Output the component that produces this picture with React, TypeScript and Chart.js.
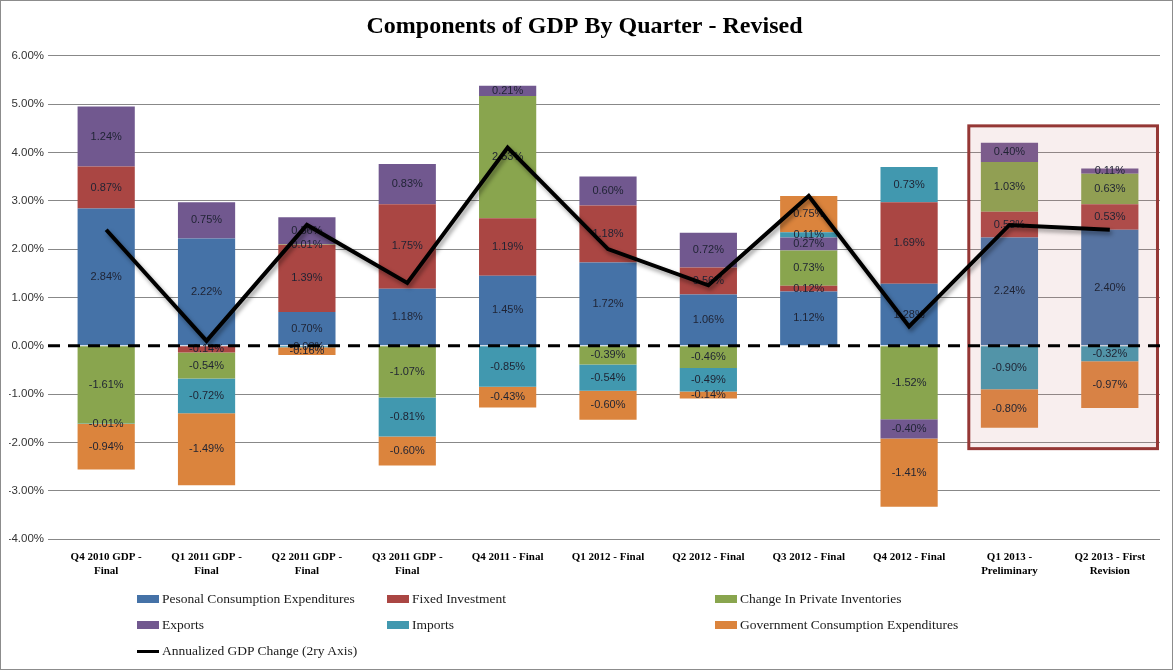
import React, { useEffect, useRef } from 'react';
import { Chart, registerables, Plugin } from 'chart.js';

Chart.register(...registerables);

// Quarters on the x axis
const categories: (string | string[])[] = [
  ['Q4 2010 GDP -', 'Final'],
  ['Q1 2011 GDP -', 'Final'],
  ['Q2 2011 GDP -', 'Final'],
  ['Q3 2011 GDP -', 'Final'],
  'Q4 2011 - Final',
  'Q1 2012 - Final',
  'Q2 2012 - Final',
  'Q3 2012 - Final',
  'Q4 2012 - Final',
  ['Q1 2013 -', 'Preliminary'],
  ['Q2 2013 - First', 'Revision'],
];

// Contributions to GDP change, percentage points
const pce = [2.84, 2.22, 0.7, 1.18, 1.45, 1.72, 1.06, 1.12, 1.28, 2.24, 2.4];
const fixedInvestment = [0.87, -0.14, 1.39, 1.75, 1.19, 1.18, 0.56, 0.12, 1.69, 0.53, 0.53];
const inventories = [-1.61, -0.54, 0.01, -1.07, 2.53, -0.39, -0.46, 0.73, -1.52, 1.03, 0.63];
const exportsSeries = [1.24, 0.75, 0.56, 0.83, 0.21, 0.6, 0.72, 0.27, -0.4, 0.4, 0.11];
const importsSeries = [-0.01, -0.72, -0.03, -0.81, -0.85, -0.54, -0.49, 0.11, 0.73, -0.9, -0.32];
const government = [-0.94, -1.49, -0.16, -0.6, -0.43, -0.6, -0.14, 0.75, -1.41, -0.8, -0.97];

// Annualized GDP change (secondary axis)
const gdpChange = [2.4, 0.1, 2.5, 1.3, 4.1, 2.0, 1.25, 3.1, 0.4, 2.5, 2.4];

const yTicks = [6, 5, 4, 3, 2, 1, 0, -1, -2, -3, -4];

const series = [
  { label: 'Pesonal Consumption Expenditures', data: pce, color: '#4572A7' },
  { label: 'Fixed Investment', data: fixedInvestment, color: '#AA4643' },
  { label: 'Change In Private Inventories', data: inventories, color: '#89A54E' },
  { label: 'Exports', data: exportsSeries, color: '#71588F' },
  { label: 'Imports', data: importsSeries, color: '#4198AF' },
  { label: 'Government Consumption Expenditures', data: government, color: '#DB843D' },
];

const lineLabel = 'Annualized GDP Change (2ry Axis)';

// highlighted quarters (index range) and the value span of the box
const highlight = { from: 9, to: 10, top: 4.55, bottom: -2.13 };

const LINE_INDEX = series.length;

const overlayPlugin: Plugin<'bar'> = {
  id: 'overlay',
  beforeDatasetDraw(chart, args) {
    if (args.index !== LINE_INDEX) return;
    const { ctx, chartArea } = chart;
    const x = chart.scales.x;
    const y = chart.scales.y;
    const step = x.getPixelForValue(1) - x.getPixelForValue(0);

    // highlight box
    const left = x.getPixelForValue(highlight.from) - 0.405 * step;
    const right = x.getPixelForValue(highlight.to) + 0.475 * step;
    const top = y.getPixelForValue(highlight.top);
    const bottom = y.getPixelForValue(highlight.bottom);
    ctx.save();
    ctx.fillStyle = 'rgba(200, 120, 120, 0.13)';
    ctx.fillRect(left, top, right - left, bottom - top);
    ctx.strokeStyle = '#953735';
    ctx.lineWidth = 3;
    ctx.strokeRect(left, top, right - left, bottom - top);
    ctx.restore();

    // bar value labels
    ctx.save();
    ctx.font = '11px "Liberation Sans", Arial, sans-serif';
    ctx.fillStyle = '#1f2333';
    ctx.textAlign = 'center';
    ctx.textBaseline = 'middle';
    series.forEach((s, di) => {
      const meta = chart.getDatasetMeta(di);
      meta.data.forEach((el: any, i) => {
        const v = s.data[i];
        if (!v) return;
        ctx.fillText(`${v.toFixed(2)}%`, el.x, (el.y + el.base) / 2);
      });
    });
    ctx.restore();

    // dashed zero line
    const y0 = y.getPixelForValue(0);
    ctx.save();
    ctx.strokeStyle = '#000';
    ctx.lineWidth = 3;
    ctx.setLineDash([12, 8]);
    ctx.beginPath();
    ctx.moveTo(chartArea.left - 8, y0);
    ctx.lineTo(chartArea.right, y0);
    ctx.stroke();
    ctx.restore();

    // shadow for the GDP line
    ctx.save();
    ctx.shadowColor = 'rgba(0, 0, 0, 0.4)';
    ctx.shadowBlur = 4;
    ctx.shadowOffsetX = 2;
    ctx.shadowOffsetY = 3;
  },
  afterDatasetDraw(chart, args) {
    if (args.index !== LINE_INDEX) return;
    chart.ctx.restore();
  },
};

const legendItems = [
  ...series.map((s) => ({ label: s.label, color: s.color, kind: 'box' })),
  { label: lineLabel, color: '#000', kind: 'line' },
];
const legendCols = [137, 387, 715];
const legendRows = [598, 624, 650];

const gridColor = (c: any) => (c.tick && c.tick.value === 0 ? 'rgba(0,0,0,0)' : '#888');

const App: React.FC = () => {
  const canvasRef = useRef<HTMLCanvasElement>(null);
  const chartInstance = useRef<Chart | null>(null);

  useEffect(() => {
    document.body.style.margin = '0';
    if (!canvasRef.current) return;
    if (chartInstance.current) chartInstance.current.destroy();
    const ctx = canvasRef.current.getContext('2d');
    if (!ctx) return;

    chartInstance.current = new Chart(ctx, {
      type: 'bar',
      data: {
        labels: categories,
        datasets: [
          ...series.map((s) => ({
            type: 'bar' as const,
            label: s.label,
            data: s.data,
            backgroundColor: s.color,
            borderWidth: 0,
            barPercentage: 0.57,
            categoryPercentage: 1,
            yAxisID: 'y',
            order: 1,
          })),
          {
            type: 'line' as const,
            label: lineLabel,
            data: gdpChange,
            borderColor: '#000',
            borderWidth: 4,
            borderJoinStyle: 'miter' as const,
            pointRadius: 0,
            tension: 0,
            fill: false,
            yAxisID: 'y2',
            order: 0,
          },
        ] as any,
      },
      options: {
        animation: false,
        responsive: true,
        maintainAspectRatio: false,
        layout: { padding: { left: 8, right: 12, top: 0, bottom: 86 } },
        plugins: {
          legend: { display: false },
          tooltip: { enabled: false },
          title: {
            display: true,
            text: 'Components of GDP By Quarter - Revised',
            color: '#000',
            font: { family: '"Liberation Serif", "Times New Roman", serif', size: 24, weight: 'bold' },
            padding: { top: 11, bottom: 15 },
          },
        },
        scales: {
          x: {
            stacked: true,
            grid: { display: false },
            border: { display: false },
            ticks: {
              color: '#000',
              font: { family: '"Liberation Serif", "Times New Roman", serif', size: 11, weight: 'bold' },
              maxRotation: 0,
              autoSkip: false,
              padding: 4,
            },
            afterFit: (scale: any) => {
              scale.height = 44;
            },
          },
          y: {
            stacked: true,
            min: yTicks[yTicks.length - 1],
            max: yTicks[0],
            afterBuildTicks: (scale: any) => {
              scale.ticks = yTicks.map((v) => ({ value: v }));
            },
            ticks: {
              color: '#333',
              font: { family: '"Liberation Sans", Arial, sans-serif', size: 11.5 },
              callback: (v) => `${Number(v).toFixed(2)}%`,
              padding: 4,
            },
            grid: {
              color: gridColor,
              tickColor: gridColor,
              drawTicks: true,
              tickLength: 8,
            },
            border: { display: false },
            afterFit: (scale: any) => {
              scale.width = 47;
            },
          },
          y2: {
            display: false,
            min: yTicks[yTicks.length - 1],
            max: yTicks[0],
          },
        },
      },
      plugins: [overlayPlugin as any],
    });

    return () => {
      if (chartInstance.current) {
        chartInstance.current.destroy();
        chartInstance.current = null;
      }
    };
  }, []);

  return (
    <div
      style={{
        position: 'relative',
        width: 1173,
        height: 670,
        boxSizing: 'border-box',
        border: '1px solid #8c8c8c',
        background: '#fff',
      }}
    >
      <canvas ref={canvasRef} />
      {legendItems.map((item, i) => (
        <div
          key={item.label}
          style={{
            position: 'absolute',
            left: legendCols[i % 3] - 1,
            top: legendRows[Math.floor(i / 3)] - 10,
            height: 20,
            display: 'flex',
            alignItems: 'center',
            fontFamily: '"Liberation Serif", "Times New Roman", serif',
            fontSize: 13.5,
            color: '#1a1a1a',
            whiteSpace: 'nowrap',
          }}
        >
          <span
            style={{
              display: 'inline-block',
              width: 22,
              height: item.kind === 'line' ? 3 : 8,
              background: item.color,
              marginRight: 3,
            }}
          />
          {item.label}
        </div>
      ))}
    </div>
  );
};

export default App;
